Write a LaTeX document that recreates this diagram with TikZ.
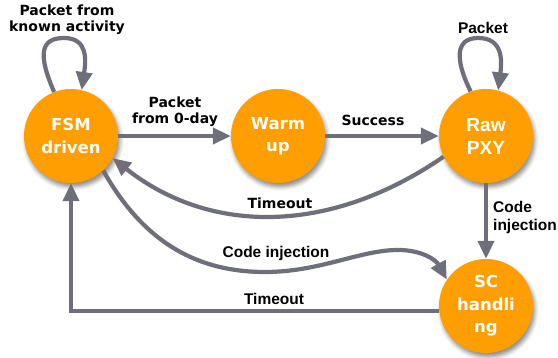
\documentclass[tikz,border=0pt]{standalone}
\usepackage{fontspec}
\newfontfamily\verd{DejaVu Sans}
\newfontfamily\ari{Liberation Sans}
\usetikzlibrary{arrows.meta,shadows.blur}
\definecolor{stateorange}{RGB}{255,158,0}
\definecolor{edgegray}{RGB}{110,111,122}
\tikzset{
  state/.style={circle,fill=stateorange,minimum size=94pt,inner sep=0pt,text=white,align=center,
    blur shadow={shadow xshift=2pt,shadow yshift=-4pt,shadow blur radius=4pt,shadow opacity=45}},
  vstate/.style={state,font=\verd\bfseries\fontsize{16.5}{22.5}\selectfont},
  astate/.style={state,font=\ari\bfseries\fontsize{19}{23}\selectfont},
  edge/.style={draw=edgegray,line width=4.2pt,-{Triangle[length=18pt,width=16pt]}},
  vlab/.style={font=\verd\bfseries\fontsize{14}{16}\selectfont,align=center,inner sep=0pt},
  alab/.style={font=\ari\bfseries\fontsize{15.5}{18}\selectfont,align=center,inner sep=0pt},
}
\begin{document}
\begin{tikzpicture}[x=1pt,y=-1pt]
\useasboundingbox (0,0) rectangle (558,358);
\node[vstate] (fsm) at (71,136) {FSM\\driven};
\node[vstate] (warm) at (278,136) {Warm\\up};
\node[astate] (raw) at (486,136) {Raw\\PXY};
\node[vstate] (sc) at (486,306) {SC\\handli\\ng};

\draw[edge] (fsm.111) .. controls (38,55) and (40,38) .. (64,38) .. controls (88,38) and (86,60) .. (fsm.77);
\draw[edge] (raw.109) .. controls (455,60) and (455,38) .. (478,38) .. controls (503,38) and (502,60) .. (raw.75);
\draw[edge] (fsm.east) -- (warm.west);
\draw[edge] (warm.east) -- (raw.west);
\draw[edge] (raw.206) .. controls (330,235) and (210,235) .. (fsm.-28);
\draw[edge] (fsm.-47) .. controls (145,245) and (200,272) .. (265,272) .. controls (320,272) and (360,250) .. (398,250) .. controls (422,250) and (436,260) .. (sc.146);
\draw[edge] (raw.south) -- (sc.north);
\draw[edge] (sc.186) -| (fsm.south);

\node[vlab] (l1) at (67,20) {Packet from\\known activity};
\node[vlab] (l2) at (175,112) {Packet\\from 0-day};
\node[vlab] (l3) at (373,120) {Success};
\node[vlab] (l4) at (280,203) {Timeout};
\node[alab] (l5) at (276,253) {Code injection};
\node[alab] (l6) at (274,299) {Timeout};
\node[alab] (l7) at (483,28) {Packet};
\node[alab,align=left,anchor=west] (l8) at (493,217) {Code\\injection};
\end{tikzpicture}
\end{document}
